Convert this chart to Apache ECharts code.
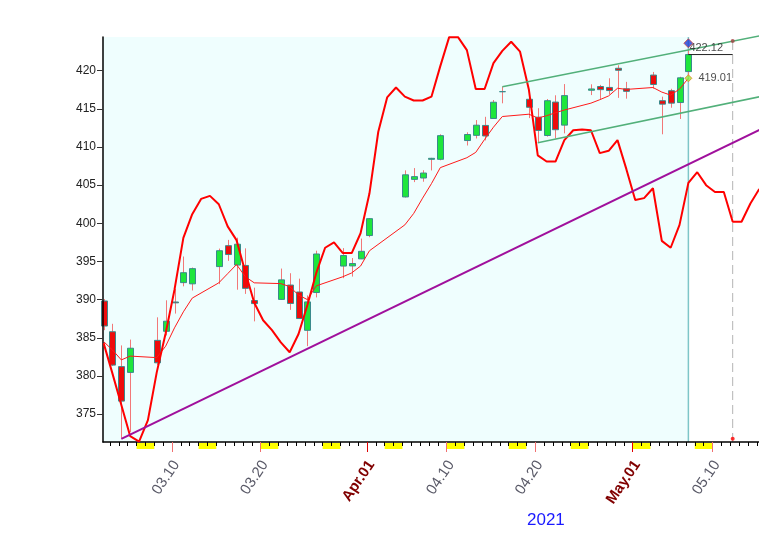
<!DOCTYPE html>
<html><head><meta charset="utf-8">
<script src="https://cdn.jsdelivr.net/npm/echarts@6/dist/echarts.min.js"></script>
<style>html,body{margin:0;padding:0;background:#fff}#c{width:759px;height:541px}</style>
</head><body><div id="c"></div>
<script>
// ---------- data ----------
const tradeDates = ['2021-03-02','2021-03-03','2021-03-04','2021-03-05','2021-03-08','2021-03-09','2021-03-10','2021-03-11','2021-03-12',
 '2021-03-15','2021-03-16','2021-03-17','2021-03-18','2021-03-19','2021-03-22','2021-03-23','2021-03-24','2021-03-25','2021-03-26',
 '2021-03-29','2021-03-30','2021-03-31','2021-04-01','2021-04-05','2021-04-06','2021-04-07','2021-04-08','2021-04-09',
 '2021-04-12','2021-04-13','2021-04-14','2021-04-15','2021-04-16','2021-04-19','2021-04-20','2021-04-21','2021-04-22','2021-04-23',
 '2021-04-26','2021-04-27','2021-04-28','2021-04-29','2021-04-30','2021-05-03','2021-05-04','2021-05-05','2021-05-06','2021-05-07'];
const opens  = [389.82,385.79,381.22,380.46,384.66,385.85,389.69,392.23,392.07,394.33,397.07,394.53,394.48,389.88,390.03,391.91,391.00,385.98,390.93,
 394.40,394.42,395.34,398.40,403.46,405.76,405.94,408.39,408.39,410.85,411.53,412.83,413.74,417.25,416.26,413.91,411.51,415.89,412.87,
 417.44,417.93,417.81,420.32,417.63,419.43,416.07,417.38,415.83,419.89];
const highs  = [390.07,386.83,384.00,384.76,387.68,389.91,391.40,395.65,394.21,396.69,397.83,398.12,396.72,391.57,394.07,393.46,392.75,390.55,396.41,
 396.75,395.45,398.00,400.67,406.94,407.24,406.96,408.58,411.67,411.93,413.53,413.96,416.16,417.91,416.74,415.09,416.29,416.78,418.25,
 418.22,418.14,419.01,420.72,418.54,419.84,416.60,417.63,419.21,422.82];
const lows   = [386.00,381.31,371.88,372.64,381.42,385.31,388.17,391.74,391.20,392.03,395.08,391.30,390.75,387.15,389.97,388.66,387.47,383.90,390.29,
 392.81,393.02,395.31,398.18,403.38,405.40,405.45,406.93,408.26,410.20,411.12,410.87,413.69,415.73,413.79,410.59,411.36,411.13,411.79,
 416.81,416.30,416.90,416.44,416.34,417.67,411.67,415.15,413.68,419.16];
const closes = [386.54,381.42,376.70,383.63,381.72,387.17,389.58,393.53,394.06,396.41,395.91,397.26,391.48,389.48,392.59,389.50,387.52,389.70,395.98,
 395.78,394.73,396.33,400.61,406.36,406.12,406.59,408.52,411.49,411.64,412.86,411.45,415.87,417.26,415.21,412.17,416.07,412.27,416.74,
 417.61,417.52,417.40,420.06,417.30,418.20,415.62,415.75,419.07,422.12];
// thin red line, one value per trading day
const avgLine = [384.5,383.4,382.1,382.6,382.4,383.9,386.3,388.4,390.2,392.2,393.4,394.6,393.0,392.2,392.1,391.7,390.6,390.0,391.8,
 393.0,393.5,394.4,396.4,399.8,401.3,403.3,405.2,407.3,408.6,409.3,411.0,412.6,414.0,414.3,413.8,414.1,414.5,414.85,
 415.75,416.2,416.7,417.7,417.55,417.8,417.2,416.8,417.6,419.01];
// thick red cycle line, one value per calendar day starting at cycleStart
const cycleStart = '2021-03-02';
const cycleLine = [384.3,380.3,376.2,372.1,371.4,374.2,380.5,385.6,391.3,398.1,401.2,403.2,403.6,402.5,399.6,397.8,393.6,389.6,387.3,386.0,
 384.4,383.1,385.5,389.3,393.5,396.8,397.5,396.1,396.1,398.7,403.9,412.0,416.5,417.8,416.6,416.1,416.1,416.6,420.6,424.4,
 424.4,422.7,417.6,417.6,421.0,422.6,423.8,422.5,417.5,408.9,408.1,408.1,410.9,412.2,412.3,412.2,409.2,409.5,410.9,407.1,
 403.05,403.3,404.6,397.7,396.8,399.8,405.3,406.7,405.0,404.1,404.1,400.2,400.2,402.6,404.5];
const weekendStarts = ['2021-03-06','2021-03-13','2021-03-20','2021-03-27','2021-04-03','2021-04-10','2021-04-17','2021-04-24','2021-05-01','2021-05-08'];
const labelDates = ['2021-03-10','2021-03-20','2021-04-01','2021-04-10','2021-04-20','2021-05-01','2021-05-10'];
const labelTexts = ['03.10','03.20','Apr.01','04.10','04.20','May.01','05.10'];
const monthStartDates = ['2021-04-01','2021-05-01'];
const yTicks = [375,380,385,390,395,400,405,410,415,420];
const supportLine = [['2021-03-04',371.75],['2021-05-16',412.8]];
const channelUpper = [['2021-04-16',417.9],['2021-05-16',424.8]];
const channelLower = [['2021-04-20',410.55],['2021-05-16',416.82]];
const projectionDate = '2021-05-12';
const projMarkTop = 423.9, projMarkBottom = 371.77, lastHighMark = 423.6;
const yearText = '2021';

// ---------- layout helpers ----------
const OFF = 0.28;            // candle position inside a day
const LABEL_SHIFT = 0.5;     // label anchor shift (days)
const X_MIN = 2.21, X_MAX = 76.25;
const Y_MIN = 371.34, Y_MAX = 424.42;
const BASE = Date.UTC(2021,1,28);
function dayIndex(s){const p=s.split('-').map(Number);return (Date.UTC(p[0],p[1]-1,p[2])-BASE)/86400000;}
const pos = s => dayIndex(s)+OFF;

const candleData = tradeDates.map((s,i)=>[pos(s),opens[i],closes[i],lows[i],highs[i]]);
const avgData = tradeDates.map((s,i)=>[pos(s),avgLine[i]]);
const c0 = dayIndex(cycleStart);
const cycleData = cycleLine.map((v,i)=>[c0+i+OFF,v]);
const lastX = pos(tradeDates[tradeDates.length-1]);
const projX = pos(projectionDate);
const dayTicks = []; for(let d=Math.ceil(X_MIN); d<=Math.floor(X_MAX); d++) dayTicks.push(d);
const labelVals = labelDates.map(dayIndex);
const monthVals = monthStartDates.map(dayIndex);
const labelMap = {}; labelVals.forEach((v,i)=>labelMap[v]=labelTexts[i]);
const FONT = '"Liberation Sans", Arial, sans-serif';

const chart = echarts.init(document.getElementById('c'));
const baseX = {type:'value',min:X_MIN,max:X_MAX,position:'bottom',z:3,splitLine:{show:false}};
chart.setOption({
  animation:false,
  backgroundColor:'#fff',
  grid:{left:103,right:0,top:37,bottom:99},
  xAxis:[
    Object.assign({},baseX,{axisLine:{lineStyle:{color:'#000',width:1.5}},
      axisTick:{customValues:dayTicks,length:4,lineStyle:{color:'#000',width:1}},axisLabel:{show:false}}),
    Object.assign({},baseX,{axisLine:{show:false},
      axisTick:{customValues:labelVals.filter(v=>monthVals.indexOf(v)<0),length:10,lineStyle:{color:'#f07070',width:1}},
      axisLabel:{customValues:labelVals.map(v=>v+LABEL_SHIFT),rotate:56,margin:20,fontFamily:FONT,
        formatter:v=>{const k=Math.floor(v);const t=labelMap[k]||'';return monthVals.indexOf(k)>=0?'{m|'+t+'}':'{n|'+t+'}';},
        rich:{n:{color:'#5a5a68',fontSize:15,fontFamily:FONT},m:{color:'#800000',fontSize:15,fontWeight:'bold',fontFamily:FONT}}}}),
    Object.assign({},baseX,{axisLine:{show:false},
      axisTick:{customValues:monthVals,length:10,lineStyle:{color:'#e00000',width:1}},axisLabel:{show:false}})
  ],
  yAxis:{type:'value',min:Y_MIN,max:Y_MAX,z:3,splitLine:{show:false},
    axisLine:{show:true,lineStyle:{color:'#000',width:1.5}},
    axisTick:{customValues:yTicks,length:6,lineStyle:{color:'#333'}},
    axisLabel:{customValues:yTicks,margin:7,color:'#222',fontSize:12,fontFamily:FONT}},
  graphic:[{type:'text',left:527,top:512,style:{text:yearText,fill:'#1a1aff',font:'17px '+FONT}}],
  series:[
    {type:'custom',z:1,silent:true,data:[[X_MIN,lastX]],encode:{x:[0,1]},
      renderItem:(p,api)=>{const a=api.coord([api.value(0),Y_MAX]),b=api.coord([api.value(1),Y_MIN]);
        return {type:'rect',shape:{x:a[0],y:a[1],width:b[0]-a[0],height:b[1]-a[1]},style:{fill:'#effefe'}};}},
    {type:'custom',z:1,silent:true,clip:false,data:weekendStarts.map(s=>[dayIndex(s)]),encode:{x:0},
      renderItem:(p,api)=>{const d=api.value(0);const a=api.coord([d,Y_MIN]),b=api.coord([d+2,Y_MIN]);
        return {type:'rect',shape:{x:a[0],y:a[1]+1,width:b[0]-a[0],height:6},style:{fill:'#ffff00'}};}},
    {type:'line',z:2,symbol:'none',silent:true,data:[[lastX,Y_MIN],[lastX,Y_MAX]],lineStyle:{color:'#7ec6c8',width:1.5}},
    {type:'line',z:2,symbol:'none',silent:true,data:[[projX,Y_MIN],[projX,Y_MAX]],lineStyle:{color:'#b4b4b4',width:1,type:[9,5]}},
    {type:'custom',z:3,data:candleData,encode:{x:0,y:[1,2,3,4]},
      renderItem:(p,api)=>{const x=api.value(0),o=api.value(1),c=api.value(2),l=api.value(3),h=api.value(4);
        const po=api.coord([x,o]),pc=api.coord([x,c]),pl=api.coord([x,l]),ph=api.coord([x,h]);
        const cx=Math.round(po[0])+0.5;const top=Math.min(po[1],pc[1]);const bh=Math.abs(po[1]-pc[1]);
        return {type:'group',children:[
          {type:'line',shape:{x1:cx,y1:ph[1],x2:cx,y2:pl[1]},style:{stroke:'#f27878',lineWidth:1}},
          {type:'rect',shape:{x:cx-3,y:top,width:6,height:bh},style:{fill:c>=o?'#1ee63c':'#ee0c0c',stroke:'#3a8a8c',lineWidth:1}}]};}},
    {type:'line',z:4,symbol:'none',data:avgData,lineStyle:{color:'#ff1a1a',width:1}},
    {type:'line',z:5,symbol:'none',data:cycleData,lineStyle:{color:'#ff0000',width:2}},
    {type:'line',z:6,symbol:'none',clip:false,data:supportLine.map(p=>[pos(p[0]),p[1]]),lineStyle:{color:'#a0109c',width:2}},
    {type:'line',z:6,symbol:'none',clip:false,data:channelUpper.map(p=>[pos(p[0]),p[1]]),lineStyle:{color:'#52b07a',width:1.5}},
    {type:'line',z:6,symbol:'none',clip:false,data:channelLower.map(p=>[pos(p[0]),p[1]]),lineStyle:{color:'#52b07a',width:1.5}},
    {type:'line',z:6,symbol:'none',data:[[lastX,closes[closes.length-1]],[projX,closes[closes.length-1]]],lineStyle:{color:'#222',width:1}},
    {type:'scatter',z:7,clip:false,data:[[lastX,closes[closes.length-1]]],symbolSize:0,
      label:{show:true,position:'right',distance:1,offset:[0,-7],formatter:()=>closes[closes.length-1].toFixed(2),color:'#222',fontSize:11,fontFamily:FONT}},
    {type:'scatter',z:8,clip:false,data:[[lastX,lastHighMark]],symbol:'diamond',symbolSize:9,itemStyle:{color:'#1f3fd6',borderColor:'#d04040',borderWidth:1}},
    {type:'scatter',z:7,clip:false,data:[[lastX,avgLine[avgLine.length-1]]],symbol:'diamond',symbolSize:7,
      itemStyle:{color:'#8cf040',borderColor:'#f08020',borderWidth:1},
      label:{show:true,position:'right',distance:6,formatter:()=>avgLine[avgLine.length-1].toFixed(2),color:'#222',fontSize:11,fontFamily:FONT}},
    {type:'scatter',z:7,clip:false,data:[[projX,projMarkTop]],symbolSize:4,itemStyle:{color:'#a04040'}},
    {type:'scatter',z:7,clip:false,data:[[projX,projMarkBottom]],symbolSize:4,itemStyle:{color:'#ff0000'}}
  ]
});
</script></body></html>
